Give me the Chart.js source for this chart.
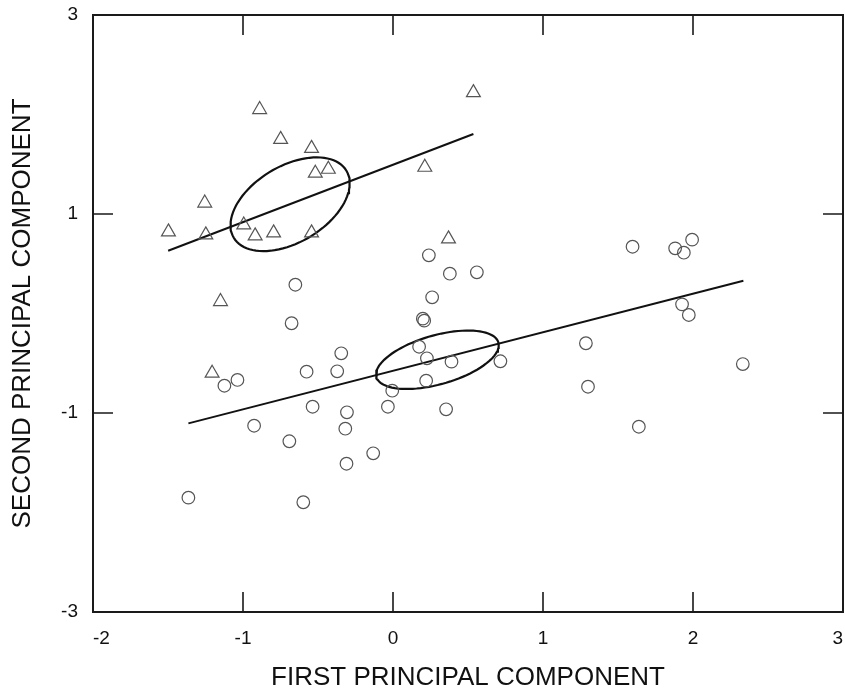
<!DOCTYPE html>
<html><head><meta charset="utf-8">
<script src="https://cdn.jsdelivr.net/npm/chart.js@4.4.1/dist/chart.umd.min.js"></script>
<style>html,body{margin:0;padding:0;background:#fff;}#wrap{width:845px;height:693px;position:relative;}</style>
</head><body><div id="wrap"><canvas id="c" width="845" height="693"></canvas></div>
<script>
// ---- data ----
const triangleX = [-0.889, -0.749, -0.543, -0.518, -0.431, 0.536, 0.212, -1.255, -1.497, -1.248, -0.995, -0.919, -0.796, -0.543, 0.370, -1.150, -1.206];
const triangleY = [2.05, 1.75, 1.66, 1.41, 1.45, 2.22, 1.47, 1.11, 0.82, 0.79, 0.89, 0.78, 0.81, 0.81, 0.75, 0.12, -0.60];

const circleX = [0.239, 0.379, 0.559, 0.261, 0.199, 0.208, -0.651, -0.676, -0.345, -0.576, -0.372, 0.174, 0.226, 0.390, 0.716, 0.221, -0.005, -0.034, 0.354, -1.037, -1.124, -0.536, -0.307, -0.318, -0.926, -0.691, -0.132, -0.310, -1.364, -0.598, 1.597, 1.881, 1.939, 1.994, 1.927, 1.972, 1.286, 1.300, 1.639, 2.332];
const circleY = [0.585, 0.400, 0.414, 0.163, -0.052, -0.072, 0.289, -0.098, -0.400, -0.585, -0.581, -0.334, -0.450, -0.484, -0.480, -0.675, -0.776, -0.937, -0.963, -0.668, -0.726, -0.937, -0.993, -1.158, -1.128, -1.284, -1.405, -1.510, -1.851, -1.897, 0.671, 0.655, 0.611, 0.742, 0.092, -0.015, -0.299, -0.736, -1.138, -0.508];

const upperLineX = [-1.499, 0.536];
const upperLineY = [0.631, 1.804];
const lowerLineX = [-1.364, 2.336];
const lowerLineY = [-1.104, 0.330];

// ellipse: centre x, centre y, first semi-axis (dx, dy), second semi-axis (dx, dy)
const upperEllipse = [-0.686, 1.098, 0.3755, 0.3367, -0.1298, 0.3296];
const lowerEllipse = [0.296, -0.465, 0.4068, 0.1732, -0.0443, 0.2370];

const xTickValues = [-2, -1, 0, 1, 2, 3];
const yTickValues = [-3, -1, 1, 3];
const xTitle = 'FIRST PRINCIPAL COMPONENT';
const yTitle = 'SECOND PRINCIPAL COMPONENT';

// ---- build datasets ----
const pts = (xs, ys) => xs.map((x, i) => ({x: x, y: ys[i]}));
function ellipseOutline(e) {
  const out = [];
  const n = 90;
  for (let k = 0; k <= n; k++) {
    const t = 2 * Math.PI * k / n;
    out.push({x: e[0] + e[2] * Math.cos(t) + e[4] * Math.sin(t),
              y: e[1] + e[3] * Math.cos(t) + e[5] * Math.sin(t)});
  }
  return out;
}

const markerColor = '#555555';
const lineColor = '#111111';

const framePlugin = {
  id: 'frame',
  afterDatasetsDraw(chart) {
    const {ctx, chartArea: a, scales} = chart;
    ctx.save();
    ctx.strokeStyle = '#1a1a1a';
    ctx.lineWidth = 2;
    ctx.strokeRect(a.left, a.top, a.right - a.left, a.bottom - a.top);
    ctx.lineWidth = 1.6;
    const L = 20;
    ctx.beginPath();
    scales.x.ticks.forEach(t => {
      if (t.value <= scales.x.min || t.value >= scales.x.max) return;
      const px = scales.x.getPixelForValue(t.value);
      ctx.moveTo(px, a.bottom); ctx.lineTo(px, a.bottom - L);
      ctx.moveTo(px, a.top); ctx.lineTo(px, a.top + L);
    });
    scales.y.ticks.forEach(t => {
      if (t.value <= scales.y.min || t.value >= scales.y.max) return;
      const py = scales.y.getPixelForValue(t.value);
      ctx.moveTo(a.left, py); ctx.lineTo(a.left + L, py);
      ctx.moveTo(a.right, py); ctx.lineTo(a.right - L, py);
    });
    ctx.stroke();
    ctx.restore();
  }
};

const font = 'Liberation Sans, Arial, sans-serif';
const noPad = s => { s.paddingTop = 0; s.paddingBottom = 0; s.paddingLeft = 0; s.paddingRight = 0; };

new Chart(document.getElementById('c'), {
  type: 'scatter',
  data: {
    datasets: [
      {data: pts(circleX, circleY), pointStyle: 'circle', pointRadius: 6.3, backgroundColor: 'rgba(0,0,0,0)', borderColor: markerColor, borderWidth: 1.2},
      {data: pts(triangleX, triangleY), pointStyle: 'triangle', pointRadius: 8, backgroundColor: 'rgba(0,0,0,0)', borderColor: markerColor, borderWidth: 1.2},
      {data: pts(upperLineX, upperLineY), showLine: true, pointRadius: 0, borderColor: lineColor, borderWidth: 2, tension: 0},
      {data: pts(lowerLineX, lowerLineY), showLine: true, pointRadius: 0, borderColor: lineColor, borderWidth: 2, tension: 0},
      {data: ellipseOutline(upperEllipse), showLine: true, pointRadius: 0, borderColor: lineColor, borderWidth: 2.2, tension: 0},
      {data: ellipseOutline(lowerEllipse), showLine: true, pointRadius: 0, borderColor: lineColor, borderWidth: 2.2, tension: 0}
    ]
  },
  options: {
    responsive: false,
    animation: false,
    devicePixelRatio: 1,
    layout: {autoPadding: false, padding: {top: 15, right: 2, bottom: 0, left: 0}},
    plugins: {legend: {display: false}, tooltip: {enabled: false}},
    scales: {
      x: {
        type: 'linear', min: xTickValues[0], max: xTickValues[xTickValues.length - 1],
        afterBuildTicks: s => { s.ticks = xTickValues.map(v => ({value: v})); },
        ticks: {align: 'inner', padding: 15, color: '#111', font: {family: font, size: 19}, maxRotation: 0, autoSkip: false},
        grid: {display: false, drawTicks: false},
        border: {display: false},
        title: {display: true, text: xTitle, color: '#111', font: {family: font, size: 26}, padding: {top: 0, bottom: 0}},
        afterFit: s => { s.height = 81; noPad(s); }
      },
      y: {
        type: 'linear', min: yTickValues[0], max: yTickValues[yTickValues.length - 1],
        afterBuildTicks: s => { s.ticks = yTickValues.map(v => ({value: v})); },
        ticks: {padding: 15, color: '#111', font: {family: font, size: 19}, autoSkip: false},
        grid: {display: false, drawTicks: false},
        border: {display: false},
        title: {display: true, text: yTitle, color: '#111', font: {family: font, size: 26}, padding: {top: 7, bottom: 0}},
        afterFit: s => { s.width = 93; noPad(s); }
      }
    }
  },
  plugins: [framePlugin]
});
</script>
</body></html>
